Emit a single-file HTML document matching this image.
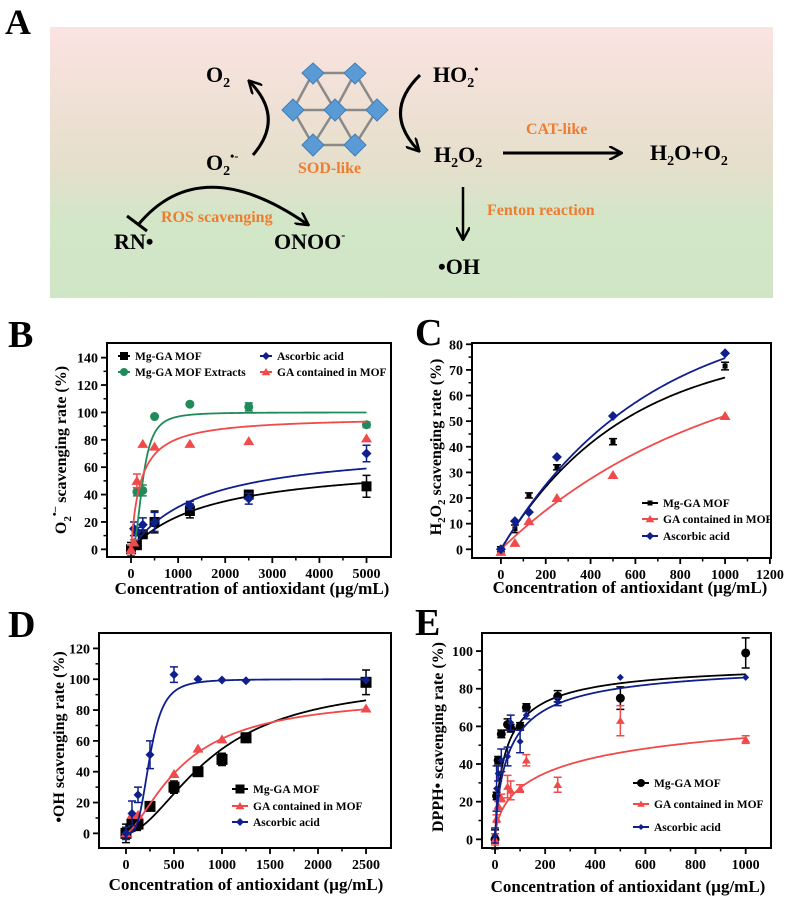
<!DOCTYPE html>
<html><head><meta charset="utf-8"><style>
html,body{margin:0;padding:0;background:#fff;}
svg{display:block;font-family:"Liberation Serif",serif;}
</style></head><body>
<svg id="fig" width="790" height="902" viewBox="0 0 790 902" xmlns="http://www.w3.org/2000/svg">
<defs>
<linearGradient id="bg" x1="0" y1="0" x2="0" y2="1">
<stop offset="0" stop-color="#fbe3e1"/><stop offset="0.5" stop-color="#e6dfcc"/><stop offset="0.72" stop-color="#d3e6c8"/><stop offset="1" stop-color="#cfe6c6"/>
</linearGradient>
<marker id="ah2" markerWidth="14" markerHeight="14" refX="11" refY="7" orient="auto" markerUnits="userSpaceOnUse"><path d="M0,0 L13,7 L0,14" fill="none" stroke="#000" stroke-width="2.5"/></marker>
</defs>
<g>
<text x="5" y="34" font-size="36" font-weight="bold">A</text>
<rect x="50" y="27" width="723" height="271" fill="url(#bg)"/>
<g stroke="#8a8a8a" stroke-width="2.5" fill="none">
<path d="M313,73 L355,73 L377,110 L355,145 L313,145 L293,110 Z"/>
<path d="M293,110 L377,110 M313,73 L335,110 L355,145 M355,73 L335,110 L313,145"/>
</g>
<g fill="#5b9bd5" stroke="#3f7fb8" stroke-width="1">
<path d="M313,63 L324,73 L313,84 L302,73 Z"/><path d="M355,63 L366,73 L355,84 L344,73 Z"/>
<path d="M293,99 L304,110 L293,121 L282,110 Z"/><path d="M335,99 L346,110 L335,121 L324,110 Z"/>
<path d="M377,99 L388,110 L377,121 L366,110 Z"/><path d="M313,134 L324,145 L313,156 L302,145 Z"/>
<path d="M355,134 L366,145 L355,156 L344,145 Z"/>
</g>
<g font-weight="bold" font-size="22" fill="#000">
<text x="206" y="82">O<tspan font-size="14" dy="5">2</tspan></text>
<text x="433" y="82">HO<tspan font-size="14" dy="5">2</tspan><tspan font-size="12" dy="-14">•</tspan></text>
<text x="434" y="162">H<tspan font-size="14" dy="5">2</tspan><tspan dy="-5">O</tspan><tspan font-size="14" dy="5">2</tspan></text>
<text x="650" y="160">H<tspan font-size="14" dy="5">2</tspan><tspan dy="-5">O+O</tspan><tspan font-size="14" dy="5">2</tspan></text>
<text x="206" y="170">O<tspan font-size="14" dy="5">2</tspan><tspan font-size="12" dy="-15">•-</tspan></text>
<text x="114" y="249">RN•</text>
<text x="274" y="249">ONOO<tspan font-size="12" dy="-10">-</tspan></text>
<text x="438" y="274">•OH</text>
</g>
<g font-weight="bold" font-size="16" fill="#ed7d31">
<text x="526" y="134">CAT-like</text>
<text x="298" y="173">SOD-like</text>
<text x="161" y="222">ROS scavenging</text>
<text x="487" y="215">Fenton reaction</text>
</g>
<g stroke="#000" stroke-width="3" fill="none">
<path d="M253,155 Q285,118 250,82" marker-end="url(#ah2)"/>
<path d="M420,75 Q382,112 418,150" marker-end="url(#ah2)"/>
<path d="M503,153 L620,153" marker-end="url(#ah2)"/>
<path d="M463,187 L463,238" stroke-width="2.5" marker-end="url(#ah2)"/>
<path d="M138,225 Q200,150 307,224" marker-end="url(#ah2)"/>
<path d="M127,216 L147,231"/>
</g>
</g>
<g id="charts"></g>
</svg>
<script>
// ---------- Panel B data ----------
const bX = [0, 125, 250, 500, 1250, 2500, 5000];
const bMof = [0, 3, 11, 20, 28, 40, 46];
const bMofErr = [5, 2, 2, 8, 5, 3, 8];
const bAscX = [62.5, 125, 250, 500, 1250, 2500, 5000];
const bAsc = [15, 13, 18, 20, 32, 37, 70];
const bAscErr = [5, 3, 5, 7, 3, 4, 6];
const bExtX = [125, 250, 500, 1250, 2500, 5000];
const bExt = [42, 43, 97, 106, 104, 91];
const bExtErr = [3, 4, 0, 0, 3, 2];
const bGaX = [0, 62.5, 125, 250, 500, 1250, 2500, 5000];
const bGa = [0, 5, 50, 77, 75, 77, 79, 81];
const bGaErr = [3, 2, 5, 0, 0, 0, 0, 0];
// fit params [Vmax, K, n]
const bFitMof = [65, 1700, 1];
const bFitAsc = [76.5, 1480, 1];
const bFitExt = [100, 250, 2.5];
const bFitGa = [97, 200, 1];
const bXTicks = [0, 1000, 2000, 3000, 4000, 5000];
const bYTicks = [0, 20, 40, 60, 80, 100, 120, 140];
// ---------- Panel C data ----------
const cX = [0, 62.5, 125, 250, 500, 1000];
const cMof = [0, 8, 21, 32, 42, 71.5];
const cMofErr = [1, 1.5, 1, 1, 1.2, 1.5];
const cAsc = [0, 11, 14.5, 36, 52, 76.5];
const cGa = [-1, 2.5, 11, 20, 29, 52];
const cFitMof = [80, 550];
const cFitAsc = [95, 650];
const cFitGa = [80, 950];
const cXTicks = [0, 200, 400, 600, 800, 1000, 1200];
const cYTicks = [0, 10, 20, 30, 40, 50, 60, 70, 80];
// ---------- Panel D data ----------
const dMofX = [0, 62.5, 100, 125, 250, 500, 750, 1000, 1250, 2500];
const dMof = [0, 6, 5, 6, 17.5, 30, 40, 48, 62, 98];
const dMofErr = [6, 2, 2, 2, 1, 4, 1, 4, 3, 8];
const dGaX = [0, 62.5, 125, 500, 750, 1000, 2500];
const dGa = [0, 12, 12, 38.5, 55, 61, 81];
const dAscX = [0, 62.5, 125, 250, 500, 750, 1000, 1250, 2500];
const dAsc = [0, 13, 25, 51, 103, 100, 99.5, 99, 99.5];
const dAscErr = [4, 8, 5, 9, 5, 0, 0, 0, 0];
const dFitMof = [100, 900, 1.8];
const dFitGa = [90, 600, 1.5];
const dFitAsc = [100, 250, 3.5];
const dXTicks = [0, 500, 1000, 1500, 2000, 2500];
const dYTicks = [0, 20, 40, 60, 80, 100, 120];
// ---------- Panel E data ----------
const eX = [0, 6.25, 12.5, 25, 50, 62.5, 100, 125, 250, 500, 1000];
const eMof = [0, 23, 42, 56, 61, 59, 60, 70, 76, 75, 99];
const eMofErr = [5, 2, 2, 2, 3, 2, 2, 2, 3, 6, 8];
const eAsc = [2, 27, 35, 42, 44, 62, 52, 66, 73, 86, 86];
const eAscErr = [4, 12, 4, 6, 5, 4, 6, 2, 2, 0, 0];
const eGa = [0, 11, 18, 22, 28, 26, 27, 42, 29, 63, 53];
const eGaErr = [3, 2, 2, 2, 6, 5, 2, 3, 4, 8, 2];
const eFitMof = [95, 45, 0.8];
const eFitAsc = [95, 60, 0.8];
const eFitGa = [80, 300, 0.6];
const eXTicks = [0, 200, 400, 600, 800, 1000];
const eYTicks = [0, 20, 40, 60, 80, 100];

const NS = 'http://www.w3.org/2000/svg';
const root = document.getElementById('charts');
function mk(tag, attrs, parent) {
  const e = document.createElementNS(NS, tag);
  for (const k in attrs) e.setAttribute(k, attrs[k]);
  (parent || root).appendChild(e);
  return e;
}
function hill(p) { return x => x <= 0 ? 0 : p[0] * Math.pow(x / p[1], p[2]) / (1 + Math.pow(x / p[1], p[2])); }
function expo(p) { return x => p[0] * (1 - Math.exp(-x / p[1])); }

function makeChart(cfg) {
  const g = mk('g', {});
  
  
  const L = cfg.box[0], T = cfg.box[1], R = cfg.box[2], B = cfg.box[3];
  const sx = v => L + (v - cfg.xd[0]) / (cfg.xd[1] - cfg.xd[0]) * (R - L);
  const sy = v => B - (v - cfg.yd[0]) / (cfg.yd[1] - cfg.yd[0]) * (B - T);
  const fr = mk('rect', { x: L, y: T, width: R - L, height: B - T, fill: 'none', stroke: '#000', 'stroke-width': 2 }, g);
  
  
  const lt = mk('text', { x: cfg.letter[0], y: cfg.letter[1], 'font-size': 38, 'font-weight': 'bold' }, g);
  lt.textContent = cfg.label;
  
  
  const xs = cfg.xTicks, step = xs[1] - xs[0];
  xs.forEach((v, i) => {
    mk('line', { x1: sx(v), x2: sx(v), y1: B, y2: B + 6, stroke: '#000', 'stroke-width': 1.8 }, g);
    if (i < xs.length - 1) mk('line', { x1: sx(v + step / 2), x2: sx(v + step / 2), y1: B, y2: B + 3.5, stroke: '#000', 'stroke-width': 1.5 }, g);
    const t = mk('text', { x: sx(v), y: B + 21, 'font-size': 14, 'font-weight': 'bold', 'text-anchor': 'middle' }, g);
    t.textContent = v;
    
    
  });
  const ys = cfg.yTicks, ystep = ys[1] - ys[0];
  ys.forEach((v, i) => {
    mk('line', { x1: L - 6, x2: L, y1: sy(v), y2: sy(v), stroke: '#000', 'stroke-width': 1.8 }, g);
    if (i < ys.length - 1 && cfg.yMinor) mk('line', { x1: L - 3.5, x2: L, y1: sy(v + ystep / 2), y2: sy(v + ystep / 2), stroke: '#000', 'stroke-width': 1.5 }, g);
    const t = mk('text', { x: L - 9, y: sy(v) + 5, 'font-size': 14, 'font-weight': 'bold', 'text-anchor': 'end' }, g);
    t.textContent = v;
    
    
  });
  const xt = mk('text', { x: cfg.xTitle[0], y: cfg.xTitle[1], 'font-size': 17, 'font-weight': 'bold', 'text-anchor': 'middle' }, g);
  xt.textContent = 'Concentration of antioxidant (\u00b5g/mL)';
  
  
  const yt = mk('text', { x: 0, y: 0, 'font-size': 16, 'font-weight': 'bold', 'text-anchor': 'middle', transform: `translate(${cfg.yTitle[0]},${cfg.yTitle[1]}) rotate(-90)` }, g);
  yt.innerHTML = cfg.yTitleHtml;
  
  
  cfg.series.forEach(s => {
    const sg = mk('g', {}, g);
    
    
    if (s.fit) {
      let d = '';
      const x0 = s.fitStart || 0, x1 = s.xs[s.xs.length - 1];
      for (let i = 0; i <= 200; i++) {
        const xv = x0 + (x1 - x0) * i / 200;
        d += (i ? 'L' : 'M') + sx(xv).toFixed(2) + ',' + sy(s.fit(xv)).toFixed(2);
      }
      const p = mk('path', { d, fill: 'none', stroke: s.color, 'stroke-width': 1.8 }, sg);
      
      
    }
    s.xs.forEach((xv, i) => {
      const X = sx(xv), Y = sy(s.ys[i]);
      const er = s.err ? s.err[i] : 0;
      if (er > 0) {
        mk('path', { d: `M${X},${sy(s.ys[i] + er)}L${X},${sy(s.ys[i] - er)}M${X - 4},${sy(s.ys[i] + er)}L${X + 4},${sy(s.ys[i] + er)}M${X - 4},${sy(s.ys[i] - er)}L${X + 4},${sy(s.ys[i] - er)}`, stroke: s.color, 'stroke-width': 1.5, fill: 'none' }, sg);
      }
      const m = marker(s.shape, X, Y, s.size, s.color, sg);
      
      
    });
  });
  cfg.legend.forEach(le => {
    const lg = mk('g', {}, g);
    
    
    mk('line', { x1: le.x, x2: le.x + cfg.legLen, y1: le.y, y2: le.y, stroke: le.color, 'stroke-width': 2 }, lg);
    marker(le.shape, le.x + cfg.legLen / 2, le.y, le.size, le.color, lg);
    const t = mk('text', { x: le.x + cfg.legLen + 5, y: le.y + 4, 'font-size': 11.5, 'font-weight': 'bold' }, lg);
    t.textContent = le.text;
  });
}
function marker(shape, X, Y, r, color, parent) {
  if (shape === 'square') return mk('rect', { x: X - r, y: Y - r, width: 2 * r, height: 2 * r, fill: color }, parent);
  if (shape === 'circle') return mk('circle', { cx: X, cy: Y, r: r, fill: color }, parent);
  if (shape === 'diamond') return mk('path', { d: `M${X},${Y - r}L${X + r},${Y}L${X},${Y + r}L${X - r},${Y}Z`, fill: color }, parent);
  return mk('path', { d: `M${X},${Y - r}L${X + r * 1.1},${Y + r * 0.8}L${X - r * 1.1},${Y + r * 0.8}Z`, fill: color }, parent);
}
const BLK = '#000', RED = '#f04a4a', NAVY = '#0f1f8c', GRN = '#1f8a5a';

makeChart({ name: 'panel-b-superoxide-chart', label: 'B', letter: [8, 347], box: [107, 343, 391, 557], xd: [-510, 5520], yd: [-5.6, 150.7],
  xTicks: bXTicks, yTicks: bYTicks, yMinor: true, xTitle: [252, 594], yTitle: [66, 450],
  yTitleHtml: 'O<tspan font-size="11" dy="5">2</tspan><tspan font-size="11" dy="-13">•\u2013</tspan><tspan dy="8"> scavenging rate (%)</tspan>',
  series: [
    { name: 'series-mg-ga-mof', xs: bX, ys: bMof, err: bMofErr, shape: 'square', size: 5, color: BLK, fit: hill(bFitMof) },
    { name: 'series-ascorbic-acid', xs: bAscX, ys: bAsc, err: bAscErr, shape: 'diamond', size: 5, color: NAVY, fit: hill(bFitAsc), fitStart: 62.5 },
    { name: 'series-mof-extracts', xs: bExtX, ys: bExt, err: bExtErr, shape: 'circle', size: 4.5, color: GRN, fit: hill(bFitExt), fitStart: 60 },
    { name: 'series-ga-in-mof', xs: bGaX, ys: bGa, err: bGaErr, shape: 'tri', size: 5, color: RED, fit: hill(bFitGa) } ],
  legLen: 12, legend: [
    { x: 118, y: 356, shape: 'square', size: 4, color: BLK, text: 'Mg-GA MOF' },
    { x: 118, y: 372, shape: 'circle', size: 4, color: GRN, text: 'Mg-GA MOF Extracts' },
    { x: 260, y: 356, shape: 'diamond', size: 4, color: NAVY, text: 'Ascorbic acid' },
    { x: 260, y: 372, shape: 'tri', size: 4, color: RED, text: 'GA contained in MOF' } ] });

makeChart({ name: 'panel-c-h2o2-chart', label: 'C', letter: [415, 345], box: [472, 343, 771, 558], xd: [-129, 1205], yd: [-3.4, 80.5],
  xTicks: cXTicks, yTicks: cYTicks, yMinor: true, xTitle: [630, 593], yTitle: [441, 447],
  yTitleHtml: 'H<tspan font-size="11" dy="4">2</tspan><tspan dy="-4">O</tspan><tspan font-size="11" dy="4">2</tspan><tspan dy="-4"> scavenging rate (%)</tspan>',
  series: [
    { name: 'series-mg-ga-mof', xs: cX, ys: cMof, err: cMofErr, shape: 'square', size: 2.5, color: BLK, fit: expo(cFitMof) },
    { name: 'series-ga-in-mof', xs: cX, ys: cGa, shape: 'tri', size: 5, color: RED, fit: expo(cFitGa) },
    { name: 'series-ascorbic-acid', xs: cX, ys: cAsc, shape: 'diamond', size: 5, color: NAVY, fit: expo(cFitAsc) } ],
  legLen: 16, legend: [
    { x: 642, y: 503, shape: 'square', size: 2.5, color: BLK, text: 'Mg-GA MOF' },
    { x: 642, y: 519, shape: 'tri', size: 4, color: RED, text: 'GA contained in MOF' },
    { x: 642, y: 536, shape: 'diamond', size: 4, color: NAVY, text: 'Ascorbic acid' } ] });

makeChart({ name: 'panel-d-hydroxyl-chart', label: 'D', letter: [8, 637], box: [99, 633, 391, 848], xd: [-281, 2760], yd: [-9.5, 130],
  xTicks: dXTicks, yTicks: dYTicks, yMinor: true, xTitle: [246, 890], yTitle: [64, 737],
  yTitleHtml: '•OH scavenging rate (%)',
  series: [
    { name: 'series-mg-ga-mof', xs: dMofX, ys: dMof, err: dMofErr, shape: 'square', size: 5.5, color: BLK, fit: hill(dFitMof) },
    { name: 'series-ga-in-mof', xs: dGaX, ys: dGa, shape: 'tri', size: 5, color: RED, fit: hill(dFitGa) },
    { name: 'series-ascorbic-acid', xs: dAscX, ys: dAsc, err: dAscErr, shape: 'diamond', size: 4.5, color: NAVY, fit: hill(dFitAsc) } ],
  legLen: 16, legend: [
    { x: 232, y: 789, shape: 'square', size: 4.5, color: BLK, text: 'Mg-GA MOF' },
    { x: 232, y: 806, shape: 'tri', size: 4, color: RED, text: 'GA contained in MOF' },
    { x: 232, y: 822, shape: 'diamond', size: 4, color: NAVY, text: 'Ascorbic acid' } ] });

makeChart({ name: 'panel-e-dpph-chart', label: 'E', letter: [415, 635], box: [482, 633, 771, 848], xd: [-52, 1101], yd: [-4.6, 109.6],
  xTicks: eXTicks, yTicks: eYTicks, yMinor: true, xTitle: [628, 892], yTitle: [443, 737],
  yTitleHtml: 'DPPH• scavenging rate (%)',
  series: [
    { name: 'series-mg-ga-mof', xs: eX, ys: eMof, err: eMofErr, shape: 'circle', size: 4.5, color: BLK, fit: hill(eFitMof) },
    { name: 'series-ga-in-mof', xs: eX, ys: eGa, err: eGaErr, shape: 'tri', size: 4, color: RED, fit: hill(eFitGa) },
    { name: 'series-ascorbic-acid', xs: eX, ys: eAsc, err: eAscErr, shape: 'diamond', size: 3.5, color: NAVY, fit: hill(eFitAsc) } ],
  legLen: 16, legend: [
    { x: 633, y: 783, shape: 'circle', size: 4, color: BLK, text: 'Mg-GA MOF' },
    { x: 633, y: 804, shape: 'tri', size: 3.5, color: RED, text: 'GA contained in MOF' },
    { x: 633, y: 827, shape: 'diamond', size: 3, color: NAVY, text: 'Ascorbic acid' } ] });
</script>
</body></html>
